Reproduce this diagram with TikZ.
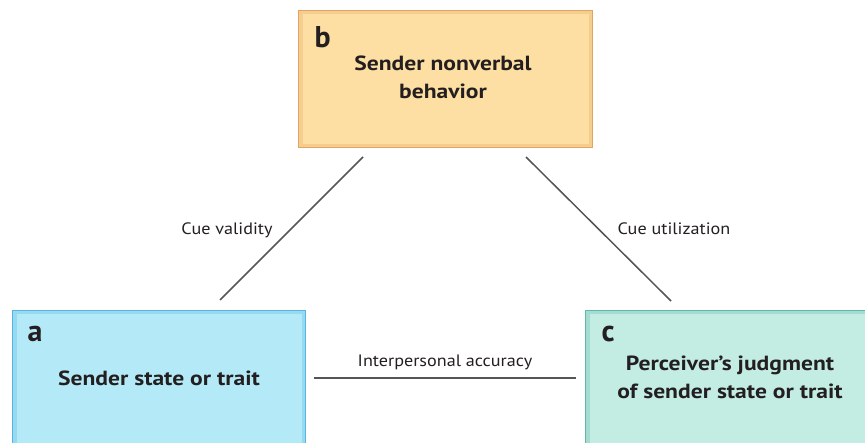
\documentclass[tikz,border=0pt]{standalone}
\usepackage{fontspec}
\setmainfont{PT Sans}
\newfontfamily\boxfont[FakeStretch=1.15]{PT Sans}
\newfontfamily\labelfont[FakeStretch=1.1]{PT Sans}
\definecolor{bfill}{HTML}{FDDFA3}
\definecolor{bline}{HTML}{E3A460}
\definecolor{afill}{HTML}{B4EAF8}
\definecolor{aline}{HTML}{55B5E3}
\definecolor{cfill}{HTML}{C3EDE3}
\definecolor{cline}{HTML}{62B7AB}
\definecolor{ink}{HTML}{231F20}
\definecolor{wire}{HTML}{555555}
\begin{document}
\begin{tikzpicture}[x=1pt,y=-1pt,
  panel/.style={draw, line width=1.4pt, rectangle, inner sep=0pt, anchor=north west},
  glow/.style={draw opacity=0.3, line width=4pt},
  tag/.style={font=\bfseries\fontsize{30}{30}\selectfont, text=ink, anchor=base west},
  title/.style={font=\boxfont\bfseries\fontsize{20.5}{28}\selectfont, text=ink, align=center},
  link/.style={draw=wire, line width=1.5pt},
  linklabel/.style={font=\labelfont\fontsize{16.5}{18}\selectfont, text=ink}]
\useasboundingbox (0,0) rectangle (865,443);
% boxes
\node[panel, draw=bline, fill=bfill, minimum width=294pt, minimum height=137pt] (b) at (298,10) {};
\node[panel, draw=aline, fill=afill, minimum width=293pt, minimum height=150pt] (a) at (12,310) {};
\node[panel, draw=cline, fill=cfill, minimum width=300pt, minimum height=150pt] (c) at (585,310) {};
% soft inner edge of each box
\draw[glow, draw=bline] ([shift={(2.5,2.5)}]b.north west) rectangle ([shift={(-2.5,-2.5)}]b.south east);
\draw[glow, draw=aline] ([shift={(2.5,2.5)}]a.north west) rectangle ([shift={(-2.5,-2.5)}]a.south east);
\draw[glow, draw=cline] ([shift={(2.5,2.5)}]c.north west) rectangle ([shift={(-2.5,-2.5)}]c.south east);
% corner letters
\node[tag] (bl) at (311,48) {b};
\node[tag] (al) at (24,342) {a};
\node[tag] (cl) at (598,342) {c};
% box titles
\node[title] (bt) at (443,77) {Sender nonverbal\\behavior};
\node[title] (at) at (159,378) {Sender state or trait};
\node[title] (ct) at (730,377) {Perceiver’s judgment\\of sender state or trait};
% connector end points
\coordinate (ba1) at (363,157);
\coordinate (ba2) at (220,300);
\coordinate (bc1) at (526,157);
\coordinate (bc2) at (671,301);
\coordinate (ac1) at (314,378);
\coordinate (ac2) at (576,378);
% connectors
\draw[link] (ba1) -- (ba2);
\draw[link] (bc1) -- (bc2);
\draw[link] (ac1) -- (ac2);
% connector labels
\node[linklabel] (lv) at (227,230) {Cue validity};
\node[linklabel] (lu) at (674,229) {Cue utilization};
\node[linklabel] (lacc) at (445,362) {Interpersonal accuracy};
\end{tikzpicture}
\end{document}
